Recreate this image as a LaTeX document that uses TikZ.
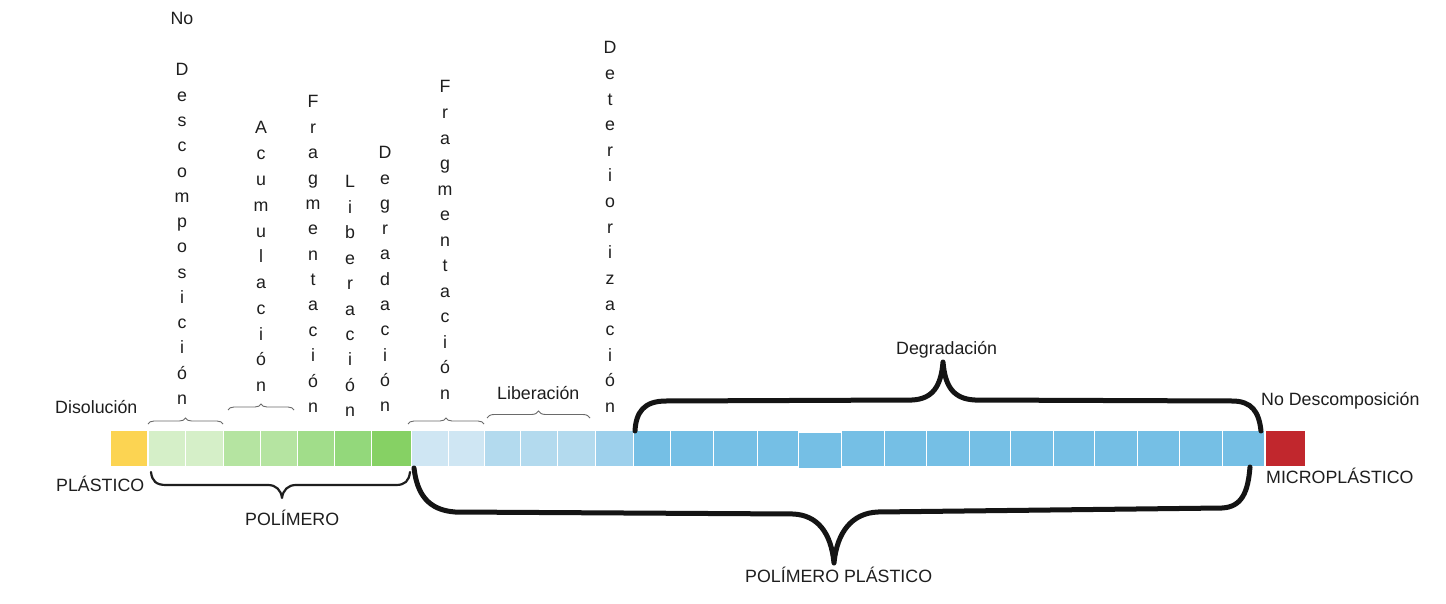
\documentclass[tikz,border=0pt]{standalone}
\usepackage{fontspec}
\setmainfont{Liberation Sans}
\usetikzlibrary{decorations.pathreplacing}
\definecolor{txt}{HTML}{1E1E1E}
\definecolor{yel}{HTML}{FCD452}
\definecolor{gA}{HTML}{D5EFC8}
\definecolor{gB}{HTML}{B5E4A1}
\definecolor{gC}{HTML}{A1DD8A}
\definecolor{gD}{HTML}{93D87B}
\definecolor{gE}{HTML}{86D164}
\definecolor{bA}{HTML}{CFE6F3}
\definecolor{bB}{HTML}{B3DAEE}
\definecolor{bC}{HTML}{9DD0EC}
\definecolor{bD}{HTML}{75BFE5}
\definecolor{redc}{HTML}{C1272D}
\definecolor{bracegray}{HTML}{6A6A6A}
\newcommand\cellnode[5]{\node[cellbox, fill=#5, minimum width={(#3-#2)*1pt}] (#1) at (#2,#4) {};}
\newcommand\vcol[5]{\foreach \l [count=\i] in {#5} {\node[letter] (#1-\i) at (#2,{#3+(\i-1)*#4}) {\l};}}
\begin{document}
\begin{tikzpicture}[x=1pt,y=-1pt,
  lbl/.style={font=\fontsize{17.8}{20}\selectfont, text=txt, inner sep=0pt},
  letter/.style={lbl, anchor=base},
  cellbox/.style={draw=white, line width=1.2pt, minimum height=36pt, inner sep=0pt, anchor=north west},
  smallbrace/.style={decorate, decoration={brace, amplitude=6pt}, draw=bracegray, line width=0.9pt},
  bigbrace/.style={draw=black!92, line width=5pt, line cap=round, line join=round},
  midbrace/.style={draw=txt, line width=2.2pt, line cap=round, line join=round}
]
\fill[white] (0,0) rectangle (1446,604);
\useasboundingbox (0,0) rectangle (1446,604);

% ---- bar cells ----
\cellnode{y1}{110}{147}{430}{yel}
\cellnode{g1}{148}{185}{430}{gA}
\cellnode{g2}{185}{223}{430}{gA}
\cellnode{g3}{223}{260}{430}{gB}
\cellnode{g4}{260}{297}{430}{gB}
\cellnode{g5}{297}{334}{430}{gC}
\cellnode{g6}{334}{371}{430}{gD}
\cellnode{g7}{371}{411}{430}{gE}
\cellnode{b1}{411}{448}{430}{bA}
\cellnode{b2}{448}{484}{430}{bA}
\cellnode{b3}{484}{520}{430}{bB}
\cellnode{b4}{520}{557}{430}{bB}
\cellnode{b5}{557}{595}{430}{bB}
\cellnode{b6}{595}{633}{430}{bC}
\cellnode{b7}{633}{670}{430}{bD}
\cellnode{b8}{670}{713}{430}{bD}
\cellnode{b9}{713}{757}{430}{bD}
\cellnode{b10}{757}{798}{430}{bD}
\cellnode{b11}{798}{841}{432}{bD}
\cellnode{b12}{841}{884}{430}{bD}
\cellnode{b13}{884}{926}{430}{bD}
\cellnode{b14}{926}{969}{430}{bD}
\cellnode{b15}{969}{1010}{430}{bD}
\cellnode{b16}{1010}{1053}{430}{bD}
\cellnode{b17}{1053}{1094}{430}{bD}
\cellnode{b18}{1094}{1137}{430}{bD}
\cellnode{b19}{1137}{1179}{430}{bD}
\cellnode{b20}{1179}{1222}{430}{bD}
\cellnode{b21}{1222}{1264}{430}{bD}
\cellnode{r1}{1265}{1305}{430}{redc}

% ---- horizontal labels ----
\node[lbl, anchor=base west] (disol) at (55,413) {Disolución};
\node[lbl, anchor=base west] (plast) at (56,491) {PLÁSTICO};
\node[lbl, anchor=base west] (polim) at (245,525) {POLÍMERO};
\node[lbl, anchor=base west] (nodesc) at (1261,405) {No Descomposición};
\node[lbl, anchor=base west] (micro) at (1266,483) {MICROPLÁSTICO};
\node[lbl, anchor=base west] (degr) at (896,354) {Degradación};
\node[lbl, anchor=base west] (liber) at (497,399) {Liberación};
\node[lbl, anchor=base west] (pp) at (745,582) {POLÍMERO PLÁSTICO};

% ---- vertical labels ----
\node[letter] (nd-0) at (182,25) {No};
\vcol{nd}{182}{76}{25.27}{D,e,s,c,o,m,p,o,s,i,c,i,ó,n}
\vcol{ac}{261}{134}{25.75}{A,c,u,m,u,l,a,c,i,ó,n}
\vcol{fa}{313}{108}{25.37}{F,r,a,g,m,e,n,t,a,c,i,ó,n}
\vcol{li}{350}{188}{25.4}{L,i,b,e,r,a,c,i,ó,n}
\vcol{de}{385}{159}{25.25}{D,e,g,r,a,d,a,c,i,ó,n}
\vcol{fb}{445}{93}{25.54}{F,r,a,g,m,e,n,t,a,c,i,ó,n}
\vcol{dt}{610}{54}{25.6}{D,e,t,e,r,i,o,r,i,z,a,c,i,ó,n}

% ---- small braces ----
\coordinate (sa1) at (148,424); \coordinate (sa2) at (223,424);
\coordinate (sb1) at (228,410); \coordinate (sb2) at (294,410);
\coordinate (sc1) at (408,424); \coordinate (sc2) at (484,424);
\coordinate (sd1) at (487,418); \coordinate (sd2) at (590,418);
\draw[smallbrace] (sa1) -- (sa2);
\draw[smallbrace] (sb1) -- (sb2);
\draw[smallbrace] (sc1) -- (sc2);
\draw[smallbrace, decoration={amplitude=7pt}] (sd1) -- (sd2);

% ---- POLIMERO brace ----
\coordinate (pb-l) at (151,472); \coordinate (pb-t) at (282,498); \coordinate (pb-r) at (410,472);
\draw[midbrace] (pb-l) .. controls (152,481) and (156,485) .. (166,485) -- (268,485)
  .. controls (276,485) and (281,490) .. (pb-t)
  .. controls (283,490) and (288,485) .. (296,485) -- (396,485)
  .. controls (405,485) and (409,481) .. (pb-r);

% ---- upper big brace (Degradacion) ----
\coordinate (ub-l) at (635,431); \coordinate (ub-t) at (943,362); \coordinate (ub-r) at (1261,431);
\draw[bigbrace] (ub-l) .. controls (636,412) and (644,401) .. (666,401) -- (912,400)
  .. controls (933,399) and (941,386) .. (ub-t)
  .. controls (945,386) and (953,399) .. (975,400) -- (1232,401)
  .. controls (1252,401) and (1259,412) .. (ub-r);

% ---- lower big brace (POLIMERO PLASTICO) ----
\coordinate (lb-l) at (414,468); \coordinate (lb-t) at (834,563); \coordinate (lb-r) at (1250,467);
\draw[bigbrace] (lb-l) .. controls (417,494) and (428,510) .. (455,512) -- (793,514)
  .. controls (817,515) and (831,532) .. (lb-t)
  .. controls (837,532) and (852,513) .. (878,512) -- (1222,508)
  .. controls (1242,507) and (1248,492) .. (lb-r);
\end{tikzpicture}
\end{document}
